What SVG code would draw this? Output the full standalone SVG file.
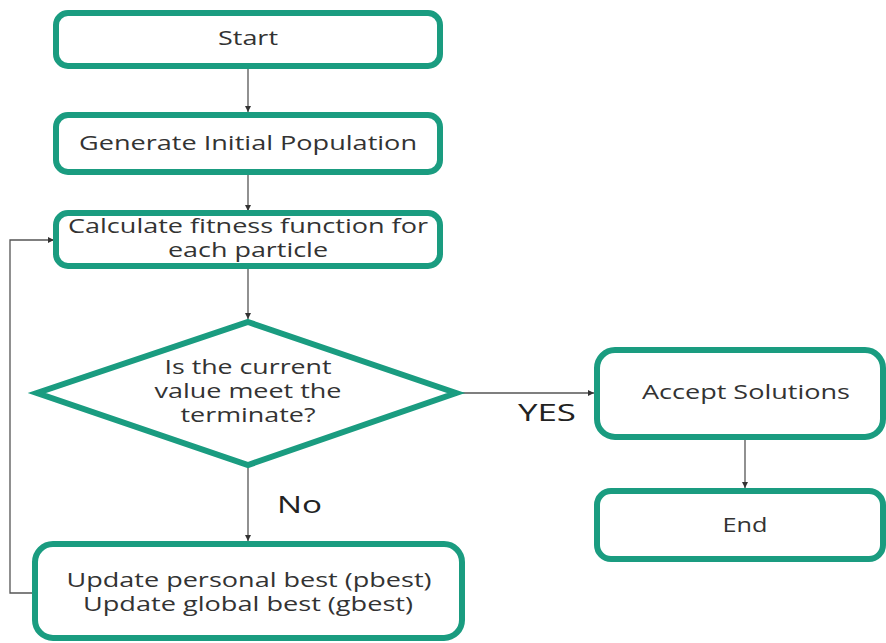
<svg xmlns="http://www.w3.org/2000/svg" width="886" height="643" viewBox="0 0 886 643">
<defs>
<marker id="ah" markerWidth="8" markerHeight="8" refX="6" refY="3" orient="auto" markerUnits="userSpaceOnUse">
<path d="M0,0 L6,3 L0,6 Z" fill="#333"/>
</marker>
<style>
.box{fill:#fff;stroke:#1a9c80;stroke-width:6}
.t{font-family:"Open Sans",sans-serif;font-size:20px;fill:#333;text-anchor:middle}
.lbl{font-family:"Open Sans",sans-serif;font-size:24px;fill:#222}
.c{fill:none;stroke:#555;stroke-width:1.3}
</style>
</defs>
<rect width="886" height="643" fill="#fff"/>
<g id="connectors">
<line class="c" x1="248" y1="67" x2="248" y2="112" marker-end="url(#ah)"/>
<line class="c" x1="248" y1="174" x2="248" y2="211" marker-end="url(#ah)"/>
<line class="c" x1="248" y1="268" x2="248" y2="319" marker-end="url(#ah)"/>
<line class="c" x1="458" y1="393" x2="594" y2="393" marker-end="url(#ah)"/>
<line class="c" x1="248" y1="467" x2="248" y2="541" marker-end="url(#ah)"/>
<line class="c" x1="745" y1="439" x2="745" y2="488" marker-end="url(#ah)"/>
<polyline class="c" points="33,593 10,593 10,240 54,240" marker-end="url(#ah)"/>
<text class="lbl" x="277" y="513" textLength="45" lengthAdjust="spacingAndGlyphs">No</text>
<text class="lbl" x="518" y="421" textLength="58" lengthAdjust="spacingAndGlyphs">YES</text>
</g>
<g id="start">
<rect class="box" x="56" y="13" width="384" height="53" rx="12"/>
<text class="t" x="248" y="45" textLength="60" lengthAdjust="spacingAndGlyphs">Start</text>
</g>
<g id="generate">
<rect class="box" x="56" y="115" width="384" height="57" rx="12"/>
<text class="t" x="248" y="150" textLength="338" lengthAdjust="spacingAndGlyphs">Generate Initial Population</text>
</g>
<g id="calculate">
<rect class="box" x="56" y="213" width="384" height="53" rx="12"/>
<text class="t" x="248" y="233" textLength="360" lengthAdjust="spacingAndGlyphs">Calculate fitness function for</text>
<text class="t" x="248" y="257" textLength="160" lengthAdjust="spacingAndGlyphs">each particle</text>
</g>
<g id="decision">
<polygon class="box" points="248,322 456,393 248,465 37,393"/>
<text class="t" x="248" y="374" textLength="167" lengthAdjust="spacingAndGlyphs">Is the current</text>
<text class="t" x="248" y="398" textLength="187" lengthAdjust="spacingAndGlyphs">value meet the</text>
<text class="t" x="248" y="422" textLength="135" lengthAdjust="spacingAndGlyphs">terminate?</text>
</g>
<g id="update">
<rect class="box" x="35" y="544" width="427" height="94" rx="18"/>
<text class="t" x="249" y="587" textLength="365" lengthAdjust="spacingAndGlyphs">Update personal best (pbest)</text>
<text class="t" x="248" y="611" textLength="330" lengthAdjust="spacingAndGlyphs">Update global best (gbest)</text>
</g>
<g id="accept">
<rect class="box" x="597" y="350" width="286" height="87" rx="18"/>
<text class="t" x="746" y="399" textLength="208" lengthAdjust="spacingAndGlyphs">Accept Solutions</text>
</g>
<g id="end">
<rect class="box" x="597" y="491" width="286" height="68" rx="14"/>
<text class="t" x="745" y="532" textLength="45" lengthAdjust="spacingAndGlyphs">End</text>
</g>
</svg>
